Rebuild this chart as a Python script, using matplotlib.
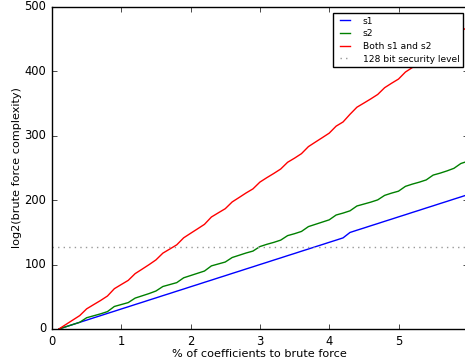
import matplotlib
matplotlib.use('Agg')
import matplotlib.pyplot as plt

# % of coefficients brute forced
pct = [0.1, 0.2, 0.3, 0.4, 0.5, 0.6, 0.7, 0.8, 0.9, 1.0,
       1.1, 1.2, 1.3, 1.4, 1.5, 1.6, 1.7, 1.8, 1.9, 2.0,
       2.1, 2.2, 2.3, 2.4, 2.5, 2.6, 2.7, 2.8, 2.9, 3.0,
       3.1, 3.2, 3.3, 3.4, 3.5, 3.6, 3.7, 3.8, 3.9, 4.0,
       4.1, 4.2, 4.3, 4.4, 4.5, 4.6, 4.7, 4.8, 4.9, 5.0,
       5.1, 5.2, 5.3, 5.4, 5.5, 5.6, 5.7, 5.8, 5.9, 6.0]

s1 = [0, 3.5, 6.9, 10.4, 13.8, 17.3, 20.7, 24.2, 27.6, 31.1,
      34.5, 38.0, 41.4, 44.9, 48.3, 51.8, 55.2, 58.7, 62.1, 65.6,
      69.0, 72.5, 75.9, 79.4, 82.8, 86.3, 89.7, 93.2, 96.6, 100.1,
      103.5, 107.0, 110.4, 113.9, 117.3, 120.8, 124.2, 127.7, 131.1, 134.6,
      138.0, 141.5, 149.9, 153.4, 156.8, 160.3, 163.7, 167.2, 170.6, 174.1,
      177.5, 181.0, 184.4, 187.9, 191.3, 194.8, 198.2, 201.7, 205.1, 208.6]

s2 = [0, 3.5, 7, 10.4, 17.5, 20.5, 23.5, 27, 35, 38,
      41, 48, 51.5, 55, 59, 66, 69, 72, 79.5, 83,
      86.5, 90, 98, 101, 104, 111, 114.5, 118, 121, 128,
      131.5, 134.5, 138, 145, 148, 151.5, 159, 162.5, 166, 169.5,
      177, 180, 183.5, 191, 194, 197, 200.5, 207.5, 211, 214,
      221.5, 225, 228, 231.5, 239, 242, 245.5, 249.5, 257, 260.5]

both = [0, 7, 13.9, 20.8, 31.3, 37.8, 44.2, 51.2, 62.6, 69.1,
        75.5, 86, 92.9, 99.9, 107.3, 117.8, 124.2, 130.7, 141.6, 148.6,
        155.5, 162.5, 173.9, 180.4, 186.8, 197.3, 204.2, 211.2, 217.6, 228.1,
        235, 241.5, 248.4, 258.9, 265.3, 272.3, 283.2, 290.2, 297.1, 304.1,
        315, 321.5, 333.4, 344.4, 350.8, 357.3, 364.2, 374.7, 381.6, 388.1,
        399, 406, 412.4, 419.4, 430.3, 436.8, 443.7, 451.2, 462.1, 469.1]

security = 128

plt.style.use('classic')
plt.rcParams['font.size'] = 8.1

fig = plt.figure(figsize=(4.65, 3.64), dpi=100)
ax = fig.add_axes([52/465, 35/364, 415.8/465, 322/364])

ax.plot(pct, s1, 'b-', lw=1, label='s1')
ax.plot(pct, s2, 'g-', lw=1, label='s2')
ax.plot(pct, both, 'r-', lw=1, label='Both s1 and s2')
ax.axhline(security, color='0.6', ls=':', lw=1, label='128 bit security level')

ax.set_xlim(0, 6)
ax.set_ylim(0, 500)
ax.set_xticks([0, 1, 2, 3, 4, 5])
ax.set_yticks([0, 100, 200, 300, 400, 500])
ax.tick_params(length=3.5, labelsize=8.3)
ax.set_xlabel('% of coefficients to brute force', fontsize=8.1, labelpad=1)
ax.set_ylabel('log2(brute force complexity)', fontsize=8.1, labelpad=2)

leg = ax.legend(loc='upper right', bbox_to_anchor=(463/465, 351/364),
                bbox_transform=fig.transFigure, fontsize=6.6,
                handlelength=1.7, handletextpad=1.1, borderaxespad=0,
                labelspacing=0.4)
leg.get_frame().set_linewidth(1)

fig.savefig('out.png', dpi=100)
